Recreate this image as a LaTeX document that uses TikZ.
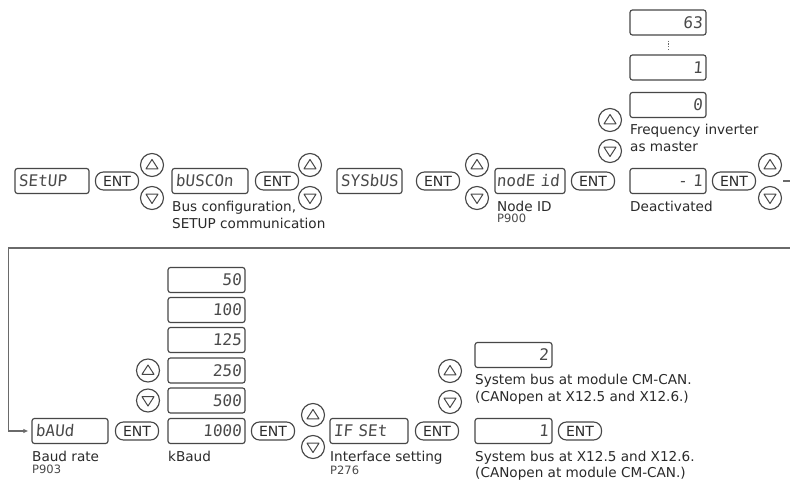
\documentclass[tikz,border=0pt]{standalone}
\usepackage{fontspec}
\setmainfont{DejaVu Sans}
\newfontfamily\segfont[FakeSlant=0.08]{DejaVu Sans Mono}
\usetikzlibrary{arrows.meta}
\definecolor{linec}{HTML}{474747}
\definecolor{txtc}{HTML}{2A2A2A}
\definecolor{segc}{HTML}{4A4A4A}
\definecolor{connc}{HTML}{6A6A6A}
\begin{document}
\begin{tikzpicture}[x=1bp,y=-1bp,
  disp/.style={draw=linec, line width=1.15bp, rounded corners=2.5bp, minimum height=25bp,
    inner xsep=3.5bp, inner ysep=0bp, text=segc,
    font=\segfont\fontsize{16bp}{16bp}\selectfont},
  dleft/.style={disp, text width=#1, align=left},
  dright/.style={disp, text width=#1, align=right},
  ent/.style={draw=linec, line width=1.15bp, rounded corners=8bp, minimum width=43bp,
    minimum height=18bp, inner sep=0pt, text=txtc, font=\fontsize{14bp}{14bp}\selectfont},
  btn/.style={circle, draw=linec, line width=1.15bp, minimum size=23bp, inner sep=0pt},
  tri/.style={draw=linec, line width=1bp, line join=round},
  lab/.style={anchor=north west, inner sep=0pt, align=left, text=txtc,
    font=\fontsize{13.6bp}{17.5bp}\selectfont},
  labb/.style={lab, font=\fontsize{13.6bp}{16bp}\selectfont},
  pnum/.style={anchor=north west, inner sep=0pt, text=txtc!85,
    font=\fontsize{11.5bp}{12bp}\selectfont},
  conn/.style={draw=connc, line width=1.2bp},
  dotline/.style={draw=connc, line width=1bp, dash pattern=on 1.2bp off 1.6bp},
  upkey/.pic={\node[btn] (-c) {}; \draw[tri] (0,-5.5) -- (6,3.8) -- (-6,3.8) -- cycle;},
  downkey/.pic={\node[btn] (-c) {}; \draw[tri] (0,5.5) -- (6,-3.8) -- (-6,-3.8) -- cycle;}
]
\fill[white] (0,0) rectangle (790,484);
\useasboundingbox (0,0) rectangle (790,484);

% ---------- first row ----------
\node[dleft=67bp] (b1) at (52,181) {SEtUP};
\node[ent] (e1) at (117,181) {ENT};
\pic (u1) at (152,165) {upkey};
\pic (d1) at (152,198) {downkey};

\node[dleft=69bp] (b2) at (210,181) {bUSCOn};
\node[lab] (l2) at (172,200.7) {Bus configuration,\\SETUP communication};
\node[ent] (e2) at (277,181) {ENT};
\pic (u2) at (310,165) {upkey};
\pic (d2) at (310,198) {downkey};

\node[dleft=58bp] (b3) at (369.5,181) {SYSbUS};
\node[ent] (e3) at (438,181) {ENT};
\pic (u3) at (477,165) {upkey};
\pic (d3) at (477,198) {downkey};

\node[dleft=67bp, inner xsep=1.5bp] (b4) at (530,181) {nodE id};
\node[lab] (l4) at (497,200.7) {Node ID};
\node[pnum] (p4) at (497,213.6) {P900};
\node[ent] (e4) at (593,181) {ENT};

\node[dright=69bp] (v63) at (668,22.5) {63};
\node[dright=69bp] (v1) at (668,67.5) {1};
\node[dright=69bp] (v0) at (668,105) {0};
\draw[dotline, shorten <=5bp, shorten >=5bp] (v63.south) -- (v1.north);
\pic (u4) at (610,120) {upkey};
\pic (d4) at (610,151) {downkey};
\node[lab] (l5a) at (630,123.7) {Frequency inverter\\as master};

\node[dright=69bp] (b5) at (668,181) {- 1};
\node[lab] (l5) at (630,200.7) {Deactivated};
\node[ent] (e5) at (734,181) {ENT};
\pic (u5) at (770,165) {upkey};
\pic (d5) at (770,198) {downkey};

% ---------- connector ----------
\coordinate (x0) at (783,181);
\coordinate (x1) at (790,181);
\draw[conn] (x0) -- (x1);
\coordinate (w0) at (790,248);
\coordinate (w1) at (8.5,248);

% ---------- second row ----------
\node[dleft=69bp] (b6) at (70,431) {bAUd};
\draw[conn, -{Latex[length=5bp,width=4.5bp]}, shorten >=3bp] (w0) -- (w1) |- (b6.west);
\node[lab] (l6) at (32,450.7) {Baud rate};
\node[pnum] (p6) at (32,464.6) {P903};
\node[ent] (e6) at (137,431) {ENT};

\node[dright=70bp] (k50) at (206.5,280) {50};
\node[dright=70bp] (k100) at (206.5,310) {100};
\node[dright=70bp] (k125) at (206.5,340) {125};
\node[dright=70bp] (k250) at (206.5,370.5) {250};
\node[dright=70bp] (k500) at (206.5,400.5) {500};
\node[dright=70bp] (k1000) at (206.5,431) {1000};
\pic (u6) at (148,370.5) {upkey};
\pic (d6) at (148,400.5) {downkey};
\node[lab] (lk) at (168,450.7) {kBaud};
\node[ent] (e7) at (273,431) {ENT};
\pic (u7) at (313,415) {upkey};
\pic (d7) at (313,447) {downkey};

\node[dleft=71bp] (b7) at (369,431) {IF SEt};
\node[lab] (l7) at (330,450.7) {Interface setting};
\node[pnum] (p7) at (330,465.6) {P276};
\node[ent] (e8) at (437,431) {ENT};

\pic (u8) at (450,371) {upkey};
\pic (d8) at (450,402) {downkey};
\node[dright=70bp] (c2) at (513.5,355) {2};
\node[lab] (lc2) at (475,373.7) {System bus at module CM-CAN.\\(CANopen at X12.5 and X12.6.)};
\node[dright=70bp] (c1) at (513.5,431) {1};
\node[ent] (e9) at (580,431) {ENT};
\node[labb] (lc1) at (475,450.7) {System bus at X12.5 and X12.6.\\(CANopen at module CM-CAN.)};
\end{tikzpicture}
\end{document}
